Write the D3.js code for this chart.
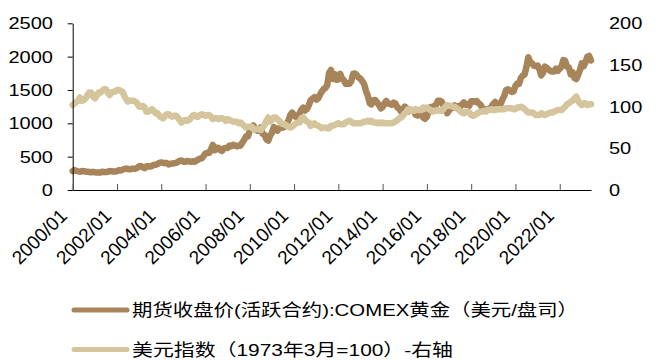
<!DOCTYPE html>
<html>
<head>
<meta charset="utf-8">
<script src="https://cdn.jsdelivr.net/npm/d3@7/dist/d3.min.js"></script>
<style>
html,body{margin:0;padding:0;background:#fff;}
svg{display:block;}
text{font-family:"Liberation Sans",Arial,"Noto Sans CJK SC",sans-serif;fill:#000;}
</style>
</head>
<body>
<script>
// ---- data (monthly, 2000/01 .. 2023/06) ----
const startYear = 2000, startMonth = 0;
const goldValues = [
 284,300,286,280,275,285,282,274,273,270,266,272,
 266,262,263,261,272,270,268,273,284,283,276,276,
 282,296,294,303,314,322,314,310,319,317,319,333,
 357,359,341,328,355,356,351,360,379,379,390,407,
 414,405,406,404,384,392,398,400,406,420,439,442,
 424,423,434,429,422,431,424,438,456,470,476,510,
 549,555,557,610,676,596,633,632,598,586,627,629,
 631,665,655,679,667,655,665,665,712,754,806,803,
 889,922,968,909,888,889,939,839,829,760,740,816,
 858,943,924,890,928,946,934,949,996,1043,1127,1160,
 1118,1095,1113,1148,1205,1233,1193,1215,1271,1343,1370,1391,
 1356,1372,1424,1474,1510,1529,1572,1756,1800,1665,1739,1652,
 1656,1743,1675,1649,1591,1596,1594,1630,1744,1747,1722,1685,
 1670,1628,1592,1487,1414,1300,1286,1347,1348,1316,1275,1225,
 1244,1300,1336,1299,1288,1279,1311,1296,1239,1222,1176,1200,
 1251,1227,1179,1198,1199,1181,1129,1117,1125,1159,1086,1068,
 1097,1199,1246,1242,1260,1276,1337,1340,1326,1267,1236,1152,
 1192,1234,1231,1267,1246,1260,1236,1283,1314,1280,1283,1265,
 1331,1331,1325,1335,1303,1282,1238,1202,1198,1215,1220,1250,
 1291,1320,1300,1286,1284,1359,1413,1500,1511,1495,1471,1480,
 1560,1597,1591,1683,1715,1732,1847,1990,1921,1900,1866,1858,
 1867,1808,1718,1760,1850,1834,1807,1785,1776,1777,1821,1789,
 1817,1856,1947,1937,1849,1837,1733,1765,1681,1664,1726,1798,
 1898,1855,1913,1999,2010,1942
];
const dollarValues = [
 102,104,106,107,111,107,108,110,114,117,117,112,
 110,113,117,117,119,121,121,117,114,117,118,118,
 120,120,119,118,113,109,106,107,107,107,106,104,
 100,100,101,99,94,94,95,97,95,92,92,89,
 87,86,89,91,91,89,88,89,89,87,84,81,
 83,84,83,84,86,89,90,88,88,90,91,90,
 89,90,90,88,85,86,86,85,86,86,85,83,
 85,84,83,82,82,82,80,81,79,77,75,76,
 76,76,73,73,73,73,72,75,78,83,87,82,
 84,87,87,85,83,80,79,79,77,76,75,76,
 78,80,81,81,86,87,84,82,81,77,78,80,
 78,77,76,74,75,75,74,74,77,77,78,79,
 80,79,79,79,81,82,83,82,80,80,80,80,
 80,81,82,82,83,82,83,81,81,80,81,80,
 81,80,80,80,80,80,81,82,84,86,87,89,
 92,94,97,97,95,95,97,96,96,96,99,98,
 99,97,96,94,95,95,96,95,95,97,100,102,
 101,101,100,100,98,97,95,93,92,94,94,93,
 90,89,90,91,93,94,94,95,94,96,96,97,
 96,96,97,97,97,97,97,98,98,98,98,97,
 97,99,99,100,99,97,95,93,93,93,92,90,
 90,90,92,91,90,91,92,93,93,94,95,96,
 96,96,98,100,103,104,106,107,110,112,107,104,
 102,104,104,102,103,103
];
const xTickLabels = ["2000/01","2002/01","2004/01","2006/01","2008/01","2010/01","2012/01","2014/01","2016/01","2018/01","2020/01","2022/01"];
const leftTicks = [0,500,1000,1500,2000,2500];
const rightTicks = [0,50,100,150,200];
const seriesNames = ["期货收盘价(活跃合约):COMEX黄金（美元/盘司）","美元指数（1973年3月=100）-右轴"];
const seriesColors = ["#A8845A","#D5C59C"];

// ---- build ----
const W = 664, H = 360;
const dates = goldValues.map((_, i) => new Date(startYear, startMonth + i, 1));
const parse = d3.timeParse("%Y/%m");

const svg = d3.select("body").append("svg").attr("width", W).attr("height", H);

const x = d3.scaleTime().domain([dates[0], dates[dates.length - 1]]).range([72.7, 591]);
const yL = d3.scaleLinear().domain([0, 2500]).range([190, 23.3]);
const yR = d3.scaleLinear().domain([0, 200]).range([190, 23.3]);

// lines
const lineG = d3.line().x((d, i) => x(dates[i])).y(d => yL(d));
const lineD = d3.line().x((d, i) => x(dates[i])).y(d => yR(d));

svg.append("path").datum(goldValues).attr("d", lineG)
  .attr("fill", "none").attr("stroke", seriesColors[0]).attr("stroke-width", 6.5)
  .attr("stroke-linejoin", "round").attr("stroke-linecap", "round");
svg.append("path").datum(dollarValues).attr("d", lineD)
  .attr("fill", "none").attr("stroke", seriesColors[1]).attr("stroke-width", 6.5)
  .attr("stroke-linejoin", "round").attr("stroke-linecap", "round");

// left axis
const gl = svg.append("g").attr("transform", "translate(72.7,0)")
  .call(d3.axisLeft(yL).tickValues(leftTicks).tickSizeInner(5).tickSizeOuter(0).tickFormat(d3.format("d")));
gl.select(".domain").attr("stroke", "#000");
gl.selectAll(".tick line").attr("stroke", "#000");
gl.selectAll(".tick text").attr("x", 0).attr("dy", "0.35em")
  .attr("transform", "translate(-19.7,0) scale(1.25,1)")
  .attr("font-size", 16).attr("text-anchor", "end").attr("fill", "#000");

// right axis (labels only)
const gr = svg.append("g").attr("transform", "translate(609,0)")
  .call(d3.axisRight(yR).tickValues(rightTicks).tickSize(0).tickFormat(d3.format("d")));
gr.select(".domain").remove();
gr.selectAll(".tick text").attr("x", 0).attr("dy", "0.35em")
  .attr("transform", "scale(1.25,1)")
  .attr("font-size", 16).attr("text-anchor", "start").attr("fill", "#000");

// bottom axis
const gb = svg.append("g").attr("transform", "translate(0,190)")
  .call(d3.axisBottom(x).tickValues(xTickLabels.map(parse)).tickSizeInner(-6).tickSizeOuter(0)
    .tickFormat(d3.timeFormat("%Y/%m")));
gb.select(".domain").attr("stroke", "#000");
gb.selectAll(".tick line").attr("stroke", "#555");
gb.selectAll(".tick text").attr("x", 0).attr("y", 0).attr("dy", 0)
  .attr("transform", "translate(-5,27) rotate(-45)")
  .attr("font-size", 19).attr("text-anchor", "end").attr("fill", "#000");

// legend
const legendY = [310, 349.5];
const legendLen = [446, 321];
seriesNames.forEach((name, i) => {
  svg.append("line").attr("x1", 74).attr("x2", 127).attr("y1", legendY[i]).attr("y2", legendY[i])
    .attr("stroke", seriesColors[i]).attr("stroke-width", 5).attr("stroke-linecap", "round");
  svg.append("text").attr("x", 132).attr("y", legendY[i]).attr("dy", "0.36em")
    .attr("font-size", 17).attr("textLength", legendLen[i]).attr("lengthAdjust", "spacingAndGlyphs")
    .text(name);
});
</script>
</body>
</html>
